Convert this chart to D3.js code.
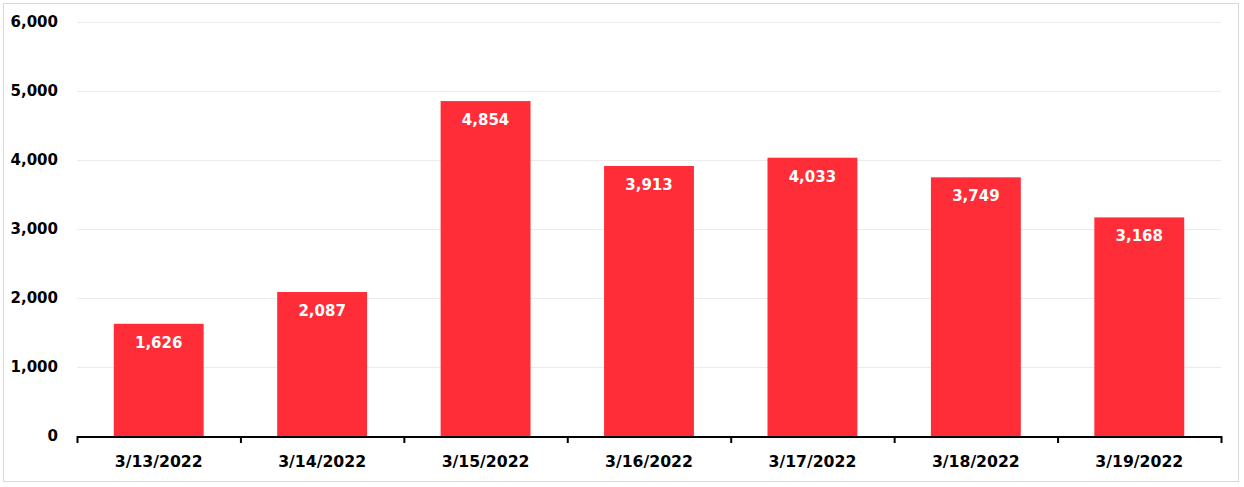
<!DOCTYPE html>
<html><head><meta charset="utf-8">
<script src="https://cdn.jsdelivr.net/npm/d3@7"></script>
<style>body{margin:0;background:#fff}</style>
</head><body><svg id="c" width="1244" height="487"></svg>
<script>
const categories = ["3/13/2022","3/14/2022","3/15/2022","3/16/2022","3/17/2022","3/18/2022","3/19/2022"];
const values = [1626, 2087, 4854, 3913, 4033, 3749, 3168];
const yTicks = [0,1000,2000,3000,4000,5000,6000];

const svg = d3.select("#c");
const font = "'DejaVu Sans', Verdana, sans-serif";
svg.append("rect").attr("x",3.5).attr("y",3.5).attr("width",1235).attr("height",478)
  .attr("fill","#fff").attr("stroke","#d9d9d9");
const L=77, R=1221, T=22, B=436;
const x = d3.scaleBand().domain(categories).range([L,R]).paddingInner(0.45).paddingOuter(0.225);
const y = d3.scaleLinear().domain([0,6000]).range([B,T]);

svg.append("g").selectAll("line").data(yTicks.slice(1)).join("line")
  .attr("x1",L).attr("x2",R).attr("y1",d=>y(d)+0.5).attr("y2",d=>y(d)+0.5)
  .attr("stroke","#ebebeb");

svg.append("g").selectAll("text").data(yTicks).join("text")
  .attr("x",58).attr("y",d=>y(d)).attr("dy","0.35em").attr("text-anchor","end")
  .attr("font-family",font).attr("font-weight","bold").attr("font-size",15).attr("fill","#000")
  .text(d=>d3.format(",")(d));

svg.append("g").selectAll("rect").data(values).join("rect")
  .attr("x",(d,i)=>x(categories[i])).attr("width",x.bandwidth())
  .attr("y",d=>y(d)).attr("height",d=>B-y(d)).attr("fill","#ff2d37");

svg.append("g").selectAll("text").data(values).join("text")
  .attr("x",(d,i)=>x(categories[i])+x.bandwidth()/2).attr("y",d=>y(d)+24)
  .attr("text-anchor","middle").attr("font-family",font).attr("font-weight","bold")
  .attr("font-size",15).attr("fill","#fff").text(d=>d3.format(",")(d));

const step = (R-L)/categories.length;
const ax = svg.append("g");
ax.append("line").attr("x1",L).attr("x2",R+1).attr("y1",B+1).attr("y2",B+1).attr("stroke","#000").attr("stroke-width",2);
ax.selectAll("line.t").data(d3.range(categories.length+1)).join("line").attr("class","t")
  .attr("x1",i=>L+i*step+0.5).attr("x2",i=>L+i*step+0.5).attr("y1",B).attr("y2",B+7)
  .attr("stroke","#000").attr("stroke-width",2);
ax.selectAll("text").data(categories).join("text")
  .attr("x",d=>x(d)+x.bandwidth()/2).attr("y",462).attr("dy","0.35em").attr("text-anchor","middle")
  .attr("font-family",font).attr("font-weight","bold").attr("font-size",15.7).attr("fill","#000")
  .text(d=>d);
</script></body></html>
